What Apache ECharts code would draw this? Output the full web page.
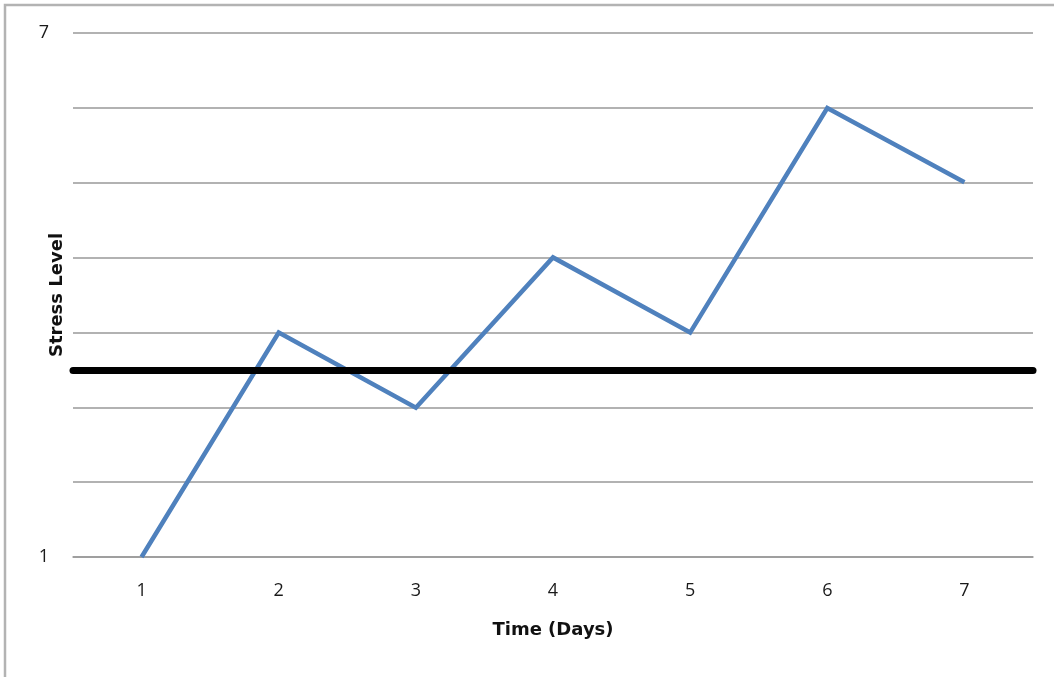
<!DOCTYPE html>
<html>
<head>
<meta charset="utf-8">
<script src="https://cdn.jsdelivr.net/npm/echarts@6/dist/echarts.min.js"></script>
<style>
html,body{margin:0;padding:0;background:#fff;}
#chart{width:1054px;height:677px;}
</style>
</head>
<body>
<div id="chart"></div>
<script>
// Data
var days = ['1', '2', '3', '4', '5', '6', '7'];
var stressLevels = [1, 3.57, 2.71, 4.43, 3.57, 6.14, 5.29];
var thresholdLevel = 3.14;
var yLabelValues = [1, 7];

var chart = echarts.init(document.getElementById('chart'));
var font = 'Open Sans';
var titleFont = 'DejaVu Sans';
chart.setOption({
  animation: false,
  backgroundColor: '#fff',
  graphic: [{
    type: 'rect',
    shape: { x: 5, y: 5, width: 1200, height: 1000 },
    style: { fill: 'none', stroke: '#b3b3b3', lineWidth: 2.5 },
    silent: true
  }],
  grid: { left: 73, right: 21, top: 33, bottom: 120 },
  xAxis: {
    type: 'category',
    data: days,
    boundaryGap: true,
    name: 'Time (Days)',
    nameLocation: 'middle',
    nameGap: 64,
    nameTextStyle: { fontFamily: titleFont, fontWeight: 'bold', fontSize: 18, color: '#111' },
    axisLine: { show: true, lineStyle: { color: '#999', width: 1.5 } },
    axisTick: { show: false },
    axisLabel: { fontFamily: font, fontSize: 18, color: '#1a1a1a', margin: 25 },
    splitLine: { show: false }
  },
  yAxis: [{
    type: 'value',
    min: 1, max: 7, interval: 1,
    name: 'Stress Level',
    nameLocation: 'middle',
    nameRotate: 90,
    nameGap: 7,
    nameMoveOverlap: false,
    nameTextStyle: { fontFamily: titleFont, fontWeight: 'bold', fontSize: 18, color: '#111' },
    axisLine: { show: false },
    axisTick: { show: false },
    splitLine: { show: false },
    axisLabel: {
      fontFamily: font, fontSize: 18, color: '#1a1a1a', margin: 24,
      formatter: function (v) { return yLabelValues.indexOf(v) >= 0 ? String(v) : ''; }
    }
  }, {
    type: 'value',
    min: 0, max: 7, interval: 1,
    position: 'left',
    axisLine: { show: false },
    axisTick: { show: false },
    axisLabel: { show: false },
    splitLine: { show: true, lineStyle: { color: '#999', width: 1.5 } }
  }],
  series: [{
    type: 'line',
    yAxisIndex: 0,
    data: stressLevels,
    symbol: 'none',
    lineStyle: { color: '#4F81BD', width: 4.5, join: 'miter' },
    markLine: {
      silent: true,
      symbol: ['none', 'none'],
      label: { show: false },
      lineStyle: { color: '#000', width: 7, type: 'solid', cap: 'round' },
      data: [{ yAxis: thresholdLevel }]
    }
  }]
});
</script>
</body>
</html>
